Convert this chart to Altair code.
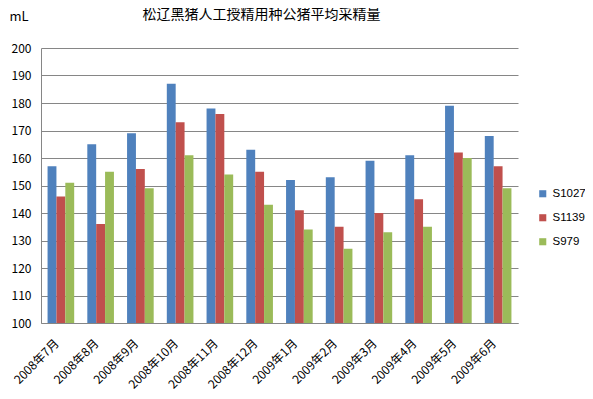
import altair as alt
import pandas as pd

months = ["2008年7月", "2008年8月", "2008年9月", "2008年10月", "2008年11月", "2008年12月",
          "2009年1月", "2009年2月", "2009年3月", "2009年4月", "2009年5月", "2009年6月"]
series = ["S1027", "S1139", "S979"]
s1027 = [157, 165, 169, 187, 178, 163, 152, 153, 159, 161, 179, 168]
s1139 = [146, 136, 156, 173, 176, 155, 141, 135, 140, 145, 162, 157]
s979 = [151, 155, 149, 161, 154, 143, 134, 127, 133, 135, 160, 149]
colors = ["#4F81BD", "#C0504D", "#9BBB59"]
y_ticks = list(range(100, 201, 10))

rows = []
for name, vals in zip(series, [s1027, s1139, s979]):
    for m, v in zip(months, vals):
        rows.append({"month": m, "series": name, "value": v})
df = pd.DataFrame(rows)

font = "Noto Sans CJK SC"

chart = alt.Chart(df).mark_bar(clip=True).encode(
    x=alt.X("month:N", sort=months,
            scale=alt.Scale(paddingInner=0.33, paddingOuter=0.165),
            axis=alt.Axis(title=None, labelAngle=-45, labelAlign="right",
                          labelBaseline="middle", ticks=False, domainColor="#868686",
                          labelFontSize=12, labelColor="#000000", labelFont=font,
                          labelPadding=18, labelOffset=-4)),
    xOffset=alt.XOffset("series:N", sort=series, scale=alt.Scale(paddingInner=0, paddingOuter=0)),
    y=alt.Y("value:Q", scale=alt.Scale(domain=[100, 200], nice=False, zero=False),
            axis=alt.Axis(values=y_ticks, title="mL", titleAngle=0, titleAlign="left",
                          titleBaseline="middle", titleX=-32, titleY=-32,
                          titleFontWeight="normal", titleFontSize=13, titleFont=font,
                          titleColor="#000000",
                          ticks=False, domainColor="#868686", gridColor="#868686",
                          labelFontSize=12, labelColor="#000000", labelFont=font,
                          labelPadding=10)),
    color=alt.Color("series:N", sort=series,
                    scale=alt.Scale(domain=series, range=colors),
                    legend=alt.Legend(title=None, orient="none", legendX=496, legendY=140,
                                      symbolType="square", symbolSize=50,
                                      symbolStrokeWidth=0, labelFontSize=11.5,
                                      labelFont="Liberation Sans", labelColor="#000000",
                                      rowPadding=11, padding=0, labelOffset=4,
                                      labelLimit=100)),
).properties(
    width=477, height=275,
    title=alt.TitleParams("松辽黑猪人工授精用种公猪平均采精量", anchor="middle",
                          dx=-18, offset=-12, fontSize=14, fontWeight="normal",
                          font=font, color="#000000"),
    autosize=alt.AutoSizeParams(type="none"),
    padding={"left": 33, "top": 40, "right": 67, "bottom": 74},
).configure_view(stroke=None)

chart.save("out.html", embed_options={"renderer": "svg", "actions": False})
